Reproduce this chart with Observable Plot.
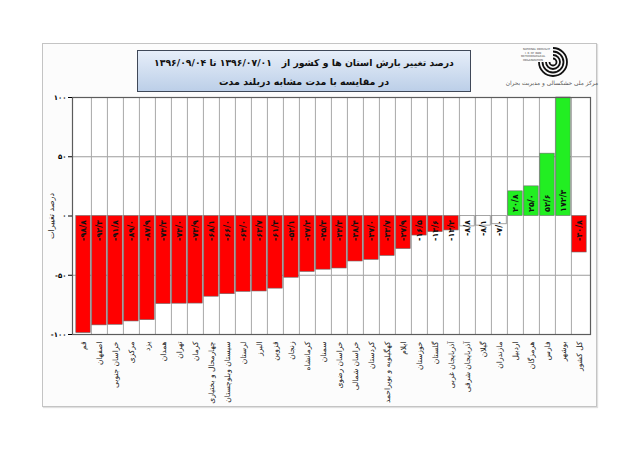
<!DOCTYPE html>
<html><head><meta charset="utf-8">
<script src="https://cdn.jsdelivr.net/npm/d3@7"></script>
<script src="https://cdn.jsdelivr.net/npm/@observablehq/plot@0.6"></script>
<style>
body{margin:0;background:#fff;}
#wrap{position:relative;width:640px;height:452px;overflow:hidden;font-family:"DejaVu Sans",sans-serif;}
#panel{position:absolute;left:42px;top:43px;width:553px;height:362px;border:1px solid #c4c4c4;background:#fcfcfc;box-shadow:1px 1px 1px #e0e0e0;}
#chart{position:absolute;left:0;top:0;}
#titlebox{position:absolute;left:137px;top:50px;width:332px;height:40px;border:1px solid #3f4858;background:linear-gradient(#e6eef9,#bccfe8);direction:rtl;text-align:center;color:#111;font-weight:bold;}
#t1{position:absolute;left:0;right:0;top:6px;font-size:9.3px;white-space:pre;}
#t2{position:absolute;left:0;right:0;top:25px;font-size:9.5px;}
#logo{position:absolute;left:505px;top:44px;}
#org{position:absolute;left:505px;top:80px;width:93px;font-size:5.8px;color:#555;direction:rtl;text-align:right;white-space:nowrap;}
</style></head>
<body>
<div id="wrap">
  <div id="panel"></div>
  <div id="chart"></div>
  <div id="titlebox"><div id="t1"></div><div id="t2"></div></div>
  <svg id="logo" width="90" height="36" viewBox="0 0 90 36">
    <g fill="none" stroke="#111" stroke-width="1.8">
      <path d="M48 4 A14 14 0 1 1 34 18"/>
      <path d="M48 7.5 A10.5 10.5 0 1 1 37.5 18"/>
      <path d="M48 11 A7 7 0 1 1 41 18"/>
      <path d="M48 14.5 A3.5 3.5 0 1 1 44.5 18"/>
    </g>
    <g fill="#444" font-size="2.6" font-family="DejaVu Sans">
      <text x="18" y="6">NATIONAL DROUGHT</text>
      <text x="20" y="9.5">I. R. OF IRAN</text>
      <text x="16" y="13">METEOROLOGICAL</text>
      <text x="18" y="16.5">ORGANIZATION</text>
    </g>
  </svg>
  <div id="org">مرکز ملی خشکسالی و مدیریت بحران</div>
</div>
<script>
const titleLine1 = "درصد تغییر بارش استان ها و کشور از   ۱۳۹۶/۰۷/۰۱ تا ۱۳۹۶/۰۹/۰۴";
const titleLine2 = "در مقایسه با مدت مشابه دربلند مدت";
const yLabel = "درصد تغییرات";

const provinces = ["قم","اصفهان","خراسان جنوبی","مرکزی","یزد","همدان","تهران","کرمان",
  "چهارمحال و بختیاری","سیستان وبلوچستان","لرستان","البرز","قزوین","زنجان","کرمانشاه","سمنان",
  "خراسان رضوی","خراسان شمالی","کردستان","کهگیلویه و بویراحمد","ایلام","خوزستان","گلستان",
  "آذربایجان غربی","آذربایجان شرقی","گیلان","مازندران","اردبیل","هرمزگان","فارس","بوشهر","کل کشور"];
const values = [-98.8,-92.3,-91.8,-89.0,-87.9,-74.3,-74.0,-73.9,
  -68.1,-66.0,-64.0,-63.7,-61.3,-52.1,-47.2,-45.3,
  -44.3,-38.4,-37.0,-33.7,-27.9,-16.5,-13.6,
  -12.2,-8.8,-8.1,-7.0,20.8,25.0,52.6,172.3,-30.8];
const yTicks = [-100,-50,0,50,100];
const yGrid = [-50,50];

document.getElementById("t1").textContent = titleLine1;
document.getElementById("t2").textContent = titleLine2;

const faDigits = "۰۱۲۳۴۵۶۷۸۹";
const fa = s => String(s).replace(/\d/g, d => faDigits[d]);
const fmtVal = v => (v < 0 ? "-" : "") + fa(Math.abs(v).toFixed(1)).replace(".", "/");
const fmtTick = v => (v < 0 ? "-" : "") + fa(Math.abs(v));
const colorOf = v => v > 0 ? "#22ee22" : v > -10 ? "#ffffff" : "#ff0000";

const data = provinces.map((p, i) => ({p, v: values[i]}));
const W = 640, H = 452, mL = 72, mR = 50, mT = 97, mB = 118;
const step = (W - mL - mR) / provinces.length;

const chart = Plot.plot({
  width: W, height: H, marginLeft: mL, marginRight: mR, marginTop: mT, marginBottom: mB,
  style: {background: "transparent", fontFamily: "DejaVu Sans", overflow: "visible"},
  x: {domain: provinces, padding: 0},
  y: {domain: [-100, 100], clamp: true},
  marks: [
    Plot.frame({fill: "#ffffff"}),
    Plot.ruleY(yGrid, {stroke: "#9c9c9c", strokeWidth: 1}),
    Plot.ruleX(provinces.slice(1), {x: d => d, dx: -step / 2, stroke: "#a9a9a9", strokeWidth: 1}),
    Plot.barY(data, {x: "p", y: "v", fill: d => colorOf(d.v), stroke: "#6a6a6a", strokeWidth: 0.6, insetLeft: 0.8, insetRight: 0.8}),
    Plot.text(data.filter(d => d.v < 0), {x: "p", y: 0, text: d => fmtVal(d.v), rotate: -90, textAnchor: "end", dy: 4, fontSize: 8, fontWeight: "bold", fill: "#111"}),
    Plot.text(data.filter(d => d.v > 0), {x: "p", y: 0, text: d => fmtVal(d.v), rotate: -90, textAnchor: "start", dy: -4, fontSize: 8, fontWeight: "bold", fill: "#111"}),
    Plot.frame({stroke: "#5c5c5c", strokeWidth: 1.2}),
    Plot.axisX({tickSize: 0, tickRotate: -90, tickPadding: 7, fontSize: 7.5, label: null, fill: "#222"}),
    Plot.axisY({ticks: yTicks, tickFormat: fmtTick, tickSize: 4, tickPadding: 2, fontSize: 7, fontWeight: "bold", label: null}),
    Plot.text([yLabel], {frameAnchor: "left", dx: -21, rotate: -90, textAnchor: "middle", text: d => d, fontSize: 8, fill: "#222"})
  ]
});
document.getElementById("chart").appendChild(chart);
</script>
</body></html>
